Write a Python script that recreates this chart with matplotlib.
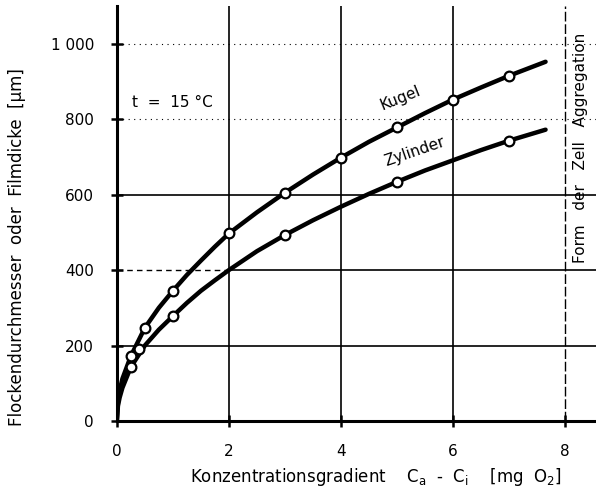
import matplotlib.pyplot as plt

# Kurven
x_kugel = [0, 0.02, 0.05, 0.1, 0.25, 0.5, 0.75, 1, 1.25, 1.5, 1.75, 2, 2.5, 3, 3.5, 4, 4.5, 5, 5.5, 6, 6.5, 7, 7.65]
y_kugel = [0, 50, 80, 112, 172, 247, 300, 345, 387, 425, 462, 497, 553, 605, 653, 698, 740, 778, 816, 852, 884, 915, 952]
x_zyl = [0, 0.02, 0.05, 0.1, 0.25, 0.5, 0.75, 1, 1.25, 1.5, 1.75, 2, 2.5, 3, 3.5, 4, 4.5, 5, 5.5, 6, 6.5, 7, 7.65]
y_zyl = [0, 40, 62, 88, 143, 200, 242, 278, 313, 345, 373, 400, 450, 493, 532, 568, 602, 634, 664, 691, 718, 743, 772]

# Messpunkte
px_kugel = [0.25, 0.5, 1, 2, 3, 4, 5, 6, 7]
py_kugel = [172, 247, 345, 497, 605, 698, 778, 852, 915]
px_zyl = [0.25, 0.4, 1, 3, 5, 7]
py_zyl = [143, 190, 278, 493, 634, 743]

xticks = [0, 2, 4, 6, 8]
yticks = [0, 200, 400, 600, 800, 1000]
ylabels = ['0', '200', '400', '600', '800', '1 000']

fig = plt.figure(figsize=(5.96, 4.93), dpi=100)
ax = fig.add_axes([0.196, 0.146, 0.804, 0.842])
ax.set_xlim(0, 8.55)
ax.set_ylim(0, 1100)

# Gitter
for xv in [2, 4, 6]:
    ax.axvline(xv, color='black', lw=1.2, zorder=1)
ax.axvline(8, color='black', lw=1.0, ls=(0, (7, 2)), zorder=1)
for yv in [200, 600]:
    ax.axhline(yv, color='black', lw=1.2, zorder=1)
ax.plot([0, 2], [400, 400], color='black', lw=1.0, ls=(0, (4, 3)), zorder=1)
ax.plot([2, 8.55], [400, 400], color='black', lw=1.2, zorder=1)
for yv in [800, 1000]:
    ax.axhline(yv, color='black', lw=0.8, ls=(0, (1, 4)), zorder=1)

ax.plot(x_kugel, y_kugel, color='black', lw=3.2, solid_capstyle='round', zorder=3)
ax.plot(x_zyl, y_zyl, color='black', lw=3.2, solid_capstyle='round', zorder=3)
ax.plot(px_kugel, py_kugel, 'o', ms=7, mfc='white', mec='black', mew=1.6, zorder=4)
ax.plot(px_zyl, py_zyl, 'o', ms=7, mfc='white', mec='black', mew=1.6, zorder=4)

for s in ['top', 'right']:
    ax.spines[s].set_visible(False)
ax.spines['left'].set_linewidth(2.2)
ax.spines['bottom'].set_linewidth(2.2)

ax.set_xticks(xticks)
ax.set_yticks(yticks)
ax.set_yticklabels(ylabels)
ax.tick_params(direction='inout', length=9, width=1.8, labelsize=11)
ax.tick_params(axis='y', pad=12)
ax.tick_params(axis='x', pad=12)

ax.text(1.0, 843, 't  =  15 °C', fontsize=11, ha='center', va='center')
ax.text(5.05, 857, 'Kugel', fontsize=11, ha='center', va='center', rotation=22)
ax.text(5.32, 714, 'Zylinder', fontsize=11, ha='center', va='center', rotation=19)

ax.set_xlabel(r'Konzentrationsgradient    $\mathrm{C_a}$  -  $\mathrm{C_i}$    [mg  O$_2$]', fontsize=12)
ax.xaxis.set_label_coords(0.54, -0.108)
ax.set_ylabel('Flockendurchmesser  oder  Filmdicke  [µm]', fontsize=12)
ax.yaxis.set_label_coords(-0.19, 0.42)
ax.text(8.27, 724, 'Form   der   Zell   Aggregation', fontsize=11, rotation=90,
        ha='center', va='center')

fig.savefig('out.png', dpi=100)
